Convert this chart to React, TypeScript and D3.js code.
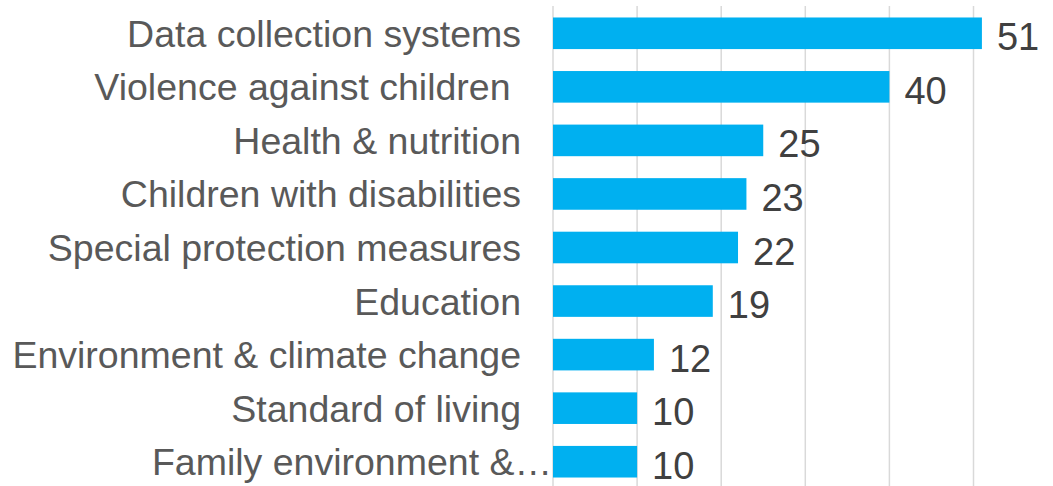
import { useEffect, useRef } from 'react'
import * as d3 from 'd3'

const categories = [
  'Data collection systems',
  'Violence against children ',
  'Health & nutrition',
  'Children with disabilities',
  'Special protection measures',
  'Education',
  'Environment & climate change',
  'Standard of living',
  'Family environment &…',
]
const values = [51, 40, 25, 23, 22, 19, 12, 10, 10]
const ticks = [0, 10, 20, 30, 40, 50, 60]

export default function App() {
  const svgRef = useRef<SVGSVGElement>(null)

  useEffect(() => {
    if (!svgRef.current) return
    const svg = d3.select(svgRef.current)
    svg.selectAll('*').remove()

    const width = 1053
    const height = 486
    const x0 = 553

    const x = d3.scaleLinear().domain([0, 60]).range([x0, x0 + 60 * 8.41])
    const y = d3.scaleBand<string>()
      .domain(categories)
      .range([6.5, 488.5])
      .paddingInner(0.41)
      .paddingOuter(0.205)

    // gridlines
    svg.append('g')
      .selectAll('line')
      .data(ticks)
      .enter()
      .append('line')
      .attr('x1', d => x(d))
      .attr('x2', d => x(d))
      .attr('y1', 6)
      .attr('y2', height)
      .style('stroke', '#d9d9d9')
      .style('stroke-width', '1.5px')

    const data = categories.map((c, i) => ({ c, v: values[i] }))

    // bars
    svg.append('g')
      .selectAll('rect')
      .data(data)
      .enter()
      .append('rect')
      .attr('x', x(0))
      .attr('y', d => y(d.c)!)
      .attr('width', d => x(d.v) - x(0))
      .attr('height', y.bandwidth())
      .style('fill', '#00b0f0')

    // value labels
    svg.append('g')
      .selectAll('text')
      .data(data)
      .enter()
      .append('text')
      .attr('x', d => x(d.v) + 15)
      .attr('y', d => y(d.c)! + y.bandwidth() / 2 + 17)
      .style('font-family', 'Liberation Sans, Arial, sans-serif')
      .style('font-size', '38px')
      .style('fill', '#404040')
      .text(d => d.v)

    // category labels (the truncated one runs up to the axis, as in Excel)
    svg.append('g')
      .selectAll('text')
      .data(data)
      .enter()
      .append('text')
      .attr('x', d => (d.c.endsWith('…') ? x0 - 1 : 521))
      .attr('y', d => y(d.c)! + y.bandwidth() / 2)
      .attr('dy', '0.36em')
      .style('text-anchor', 'end')
      .style('font-family', 'Liberation Sans, Arial, sans-serif')
      .style('font-size', '37.5px')
      .style('fill', '#595959')
      .style('white-space', 'pre')
      .text(d => d.c)

    svg.attr('width', width).attr('height', height)
  }, [])

  return (
    <div style={{ position: 'absolute', left: 0, top: 0, width: 1053, height: 486, overflow: 'hidden', background: '#fff' }}>
      <svg ref={svgRef} style={{ display: 'block' }}></svg>
    </div>
  )
}
